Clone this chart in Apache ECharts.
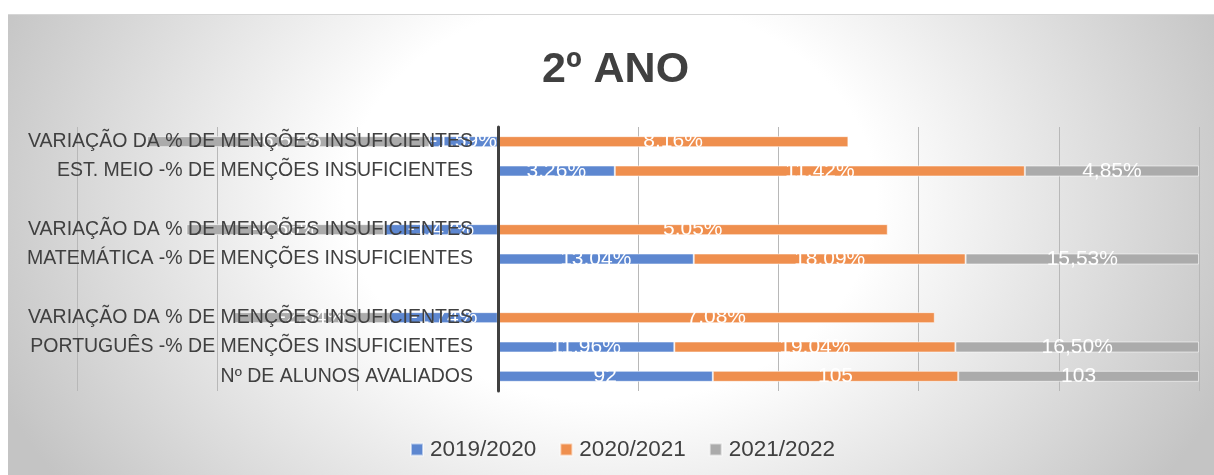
<!DOCTYPE html>
<html>
<head>
<meta charset="utf-8">
<script src="https://cdn.jsdelivr.net/npm/echarts@6/dist/echarts.min.js"></script>
<style>
  body { margin: 0; background: #fff; }
  #chart {
    position: absolute; left: 8px; top: 14px; width: 1206px; height: 461px;
    border-top: 1px solid #d6d6d6;
    background: radial-gradient(ellipse 55% 110% at 50% 40%, #ffffff 40%, #c4c4c4 100%);
  }
</style>
</head>
<body>
<div id="chart"></div>
<script>
// linhas de cima para baixo ('' = espaço entre grupos)
var categories = [
  'VARIAÇÃO DA % DE MENÇÕES INSUFICIENTES',
  'EST. MEIO -% DE MENÇÕES INSUFICIENTES',
  '',
  'VARIAÇÃO DA % DE MENÇÕES INSUFICIENTES',
  'MATEMÁTICA -% DE MENÇÕES INSUFICIENTES',
  '',
  'VARIAÇÃO DA % DE MENÇÕES INSUFICIENTES',
  'PORTUGUÊS -% DE MENÇÕES INSUFICIENTES',
  'Nº DE ALUNOS AVALIADOS'
];
var anos = ['2019/2020', '2020/2021', '2021/2022'];
var v2019 = [-1.59, 3.26, null, -1.47, 13.04, null, -1.74, 11.96, 92];
var v2020 = [8.16, 11.42, null, 5.05, 18.09, null, 7.08, 19.04, 105];
var v2021 = [-6.57, 4.85, null, -2.56, 15.53, null, -2.54, 16.50, 103];
var isCount = [false, false, false, false, false, false, false, false, true];
var decSep = ['.', '.', ','];
var colors = ['#5d87d0', '#ef8f4e', '#ababab'];
var xTicks = [-60, -40, -20, 0, 20, 40, 60, 80, 100];

var raw = [v2019, v2020, v2021];

function fmt(v, i, s) {
  if (isCount[i]) return String(v);
  var t = Math.abs(v).toFixed(2).replace('.', decSep[s]);
  return (v < 0 ? '-' : '') + t + '%';
}

var series = raw.map(function (arr, s) {
  return {
    name: anos[s],
    type: 'bar',
    stack: 'total',
    barWidth: 11,
    itemStyle: { color: colors[s], borderColor: 'rgba(255,255,255,0.55)', borderWidth: 1 },
    label: {
      show: true, position: 'inside', color: '#fff', fontSize: 21,
      fontFamily: 'Liberation Sans', textBorderWidth: 0,
      formatter: function (p) { return fmt(raw[s][p.dataIndex], p.dataIndex, s); }
    },
    data: arr.map(function (v, i) {
      if (v === null) return '-';
      var sum = Math.abs(v2019[i]) + Math.abs(v2020[i]) + Math.abs(v2021[i]);
      return v / sum * 100;
    })
  };
});

var chart = echarts.init(document.getElementById('chart'));
chart.setOption({
  animation: false,
  title: {
    text: '2º ANO', left: 529, top: 29,
    textStyle: { fontSize: 43, fontWeight: 'bold', color: '#404040', fontFamily: 'Liberation Sans' }
  },
  legend: {
    data: anos, left: 397, top: 418,
    itemWidth: 12, itemHeight: 12, itemGap: 23,
    icon: 'rect',
    textStyle: { fontSize: 22.5, color: '#404040', fontFamily: 'Liberation Sans', padding: [0, 0, 0, 2] }
  },
  grid: { left: 69, right: 15, top: 112, bottom: 85, containLabel: false, outerBoundsMode: 'none' },
  xAxis: {
    type: 'value', min: xTicks[0], max: xTicks[xTicks.length - 1], interval: 20,
    axisLabel: { show: false }, axisLine: { show: false }, axisTick: { show: false },
    splitLine: { lineStyle: { color: '#b8b8b8', width: 1 } }
  },
  yAxis: {
    type: 'category', data: categories, inverse: true, z: 5,
    axisTick: { show: false },
    axisLine: { onZero: true, lineStyle: { color: '#404040', width: 3 } },
    axisLabel: { fontSize: 19.5, color: '#404040', margin: -396, fontFamily: 'Liberation Sans' }
  },
  series: series
});
</script>
</body>
</html>
